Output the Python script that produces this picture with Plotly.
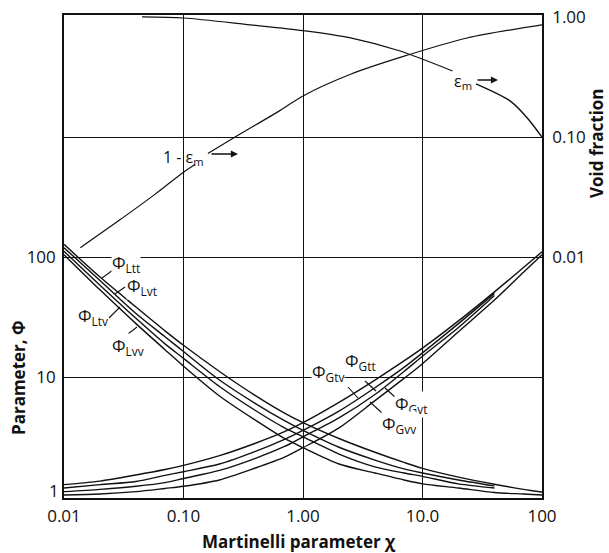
import plotly.graph_objects as go

# ---------------- data ----------------
chi_full = [0.01, 0.02, 0.04, 0.07, 0.1, 0.2, 0.4, 0.7, 1, 2, 4, 7, 10, 20, 40, 70, 100]
chi_short = [0.01, 0.02, 0.04, 0.07, 0.1, 0.2, 0.4, 0.7, 1, 2, 4, 7, 10, 20, 40]

phi_Ltt = [128, 68.4, 38.5, 24.4, 18.5, 11.2, 7.05, 5.04, 4.20, 3.10, 2.38, 1.96, 1.75, 1.48, 1.29, 1.17, 1.11]
phi_Lvt = [120, 64.0, 34.0, 21.8, 16.4, 9.5, 6.05, 4.36, 3.62, 2.62, 2.05, 1.73, 1.60, 1.40, 1.25]
phi_Ltv = [112, 58.5, 31.0, 19.0, 14.4, 8.4, 5.3, 3.8, 3.2, 2.3, 1.8, 1.6, 1.5, 1.3, 1.2]
phi_Lvv = [105, 53.5, 28.0, 17.0, 12.4, 7.0, 4.4, 3.1, 2.6, 1.9, 1.6, 1.4, 1.3, 1.2, 1.1, 1.07, 1.05]

phi_Gtt = [1.28, 1.37, 1.54, 1.71, 1.85, 2.23, 2.83, 3.53, 4.20, 6.20, 9.5, 13.7, 17.5, 29.5, 51.5, 82, 111]
phi_Gvt = [1.20, 1.28, 1.36, 1.53, 1.64, 1.90, 2.42, 3.05, 3.62, 5.24, 8.2, 12.1, 16.0, 28.0, 50.0]
phi_Gtv = [1.12, 1.17, 1.24, 1.33, 1.44, 1.68, 2.12, 2.66, 3.2, 4.6, 7.2, 11.2, 15.0, 26.0, 48.0]
phi_Gvv = [1.05, 1.07, 1.12, 1.19, 1.24, 1.40, 1.76, 2.17, 2.6, 3.8, 6.4, 9.8, 13.0, 24.0, 44.0, 75, 105]

# void fraction curves (right axis)
eps_chi_a = [0.045, 0.1, 0.36, 1.0, 2.5, 6.5, 17.8]
eps_val_a = [1.0, 0.98, 0.86, 0.77, 0.67, 0.52, 0.355]
eps_chi_b = [28, 54, 75, 100]
eps_val_b = [0.277, 0.20, 0.145, 0.10]

oneeps_chi_a = [0.0137, 0.028, 0.058, 0.1, 0.125]
oneeps_val_a = [0.012, 0.0198, 0.0335, 0.051, 0.059]
oneeps_chi_b = [0.16, 0.27, 0.64, 1.0, 2.5, 6.5, 23.6, 100]
oneeps_val_b = [0.073, 0.10, 0.166, 0.22, 0.333, 0.46, 0.668, 0.86]

x_tickvals = [0.01, 0.1, 1, 10, 100]
x_ticktext = ["0.01", "0.10", "1.00", "10.0", "100"]
yl_tickvals = [1, 10, 100, 1000]
yl_ticktext = ["", "10", "100", ""]
yl_bottom_label = "1"
yr_tickvals = [0.01, 0.1, 1]
yr_ticktext = ["0.01", "0.10", "1.00"]

# ---------------- layout geometry ----------------
W, H = 609, 553
L, R, T, B = 64, 67, 15, 55
PW, PH = W - L - R, H - T - B


def pp(px, py):
    return (px - L) / PW, (H - B - py) / PH


FONT = "Open Sans"
LC = "#111111"
LW = 1.4

fig = go.Figure()


def curve(x, y, axis="y", w=LW):
    fig.add_trace(go.Scatter(x=x, y=y, mode="lines", yaxis=axis,
                             line=dict(color=LC, width=w, shape="spline", smoothing=0.8),
                             showlegend=False, hoverinfo="skip"))


curve(chi_full, phi_Ltt)
curve(chi_short, phi_Lvt)
curve(chi_short, phi_Ltv)
curve(chi_full, phi_Lvv)
curve(chi_full, phi_Gtt)
curve(chi_short, phi_Gvt)
curve(chi_short, phi_Gtv)
curve(chi_full, phi_Gvv)

curve(eps_chi_a, eps_val_a, "y2", 1.2)
curve(eps_chi_b, eps_val_b, "y2", 1.4)
curve(oneeps_chi_a, oneeps_val_a, "y2", 1.2)
curve(oneeps_chi_b, oneeps_val_b, "y2", 1.2)

ann = []
shapes = []


def label(text, px, py, size=17, bg="white", anchor="left"):
    x, y = pp(px, py)
    ann.append(dict(x=x, y=y, xref="paper", yref="paper", text=text, showarrow=False,
                    xanchor=anchor, yanchor="middle", bgcolor=bg, borderpad=0,
                    font=dict(family=FONT, size=size, color=LC)))


def seg(x0, y0, x1, y1, w=1.1):
    a, b = pp(x0, y0)
    c, d = pp(x1, y1)
    shapes.append(dict(type="line", xref="paper", yref="paper", x0=a, y0=b, x1=c, y1=d,
                       line=dict(color=LC, width=w)))


def arrow(x0, y0, x1, y1):
    a, b = pp(x1, y1)
    ann.append(dict(x=a, y=b, xref="paper", yref="paper", text="", showarrow=True,
                    ax=x0 - x1, ay=y0 - y1, arrowhead=2, arrowsize=1.1, arrowwidth=1.3,
                    arrowcolor=LC))


label("Φ<sub>Ltt</sub>", 111, 263)
label("Φ<sub>Lvt</sub>", 126, 286)
label("Φ<sub>Ltv</sub>", 77, 317)
label("Φ<sub>Lvv</sub>", 111, 346)
label("Φ<sub>Gtv</sub>", 311, 372)
label("Φ<sub>Gtt</sub>", 344, 361)
label("Φ<sub>Gvt</sub>", 394, 404)
label("Φ<sub>Gvv</sub>", 381, 424)

seg(102, 278, 113, 270)
seg(115, 294, 125, 287)
seg(109, 318, 120, 307)
seg(128, 334, 137, 327)
seg(365, 381, 376, 391)
seg(348, 387, 358, 398)
seg(385, 388, 395, 397)
seg(370, 402, 382, 413)

label("1 - ε<sub>m</sub>", 162, 157, 16, bg="rgba(0,0,0,0)")
arrow(210, 154, 238, 154)
label("ε<sub>m</sub>", 453, 81, 16, bg="rgba(0,0,0,0)")
arrow(476, 80, 498, 80)

# bottom tick label of the left axis, placed where the reference shows it
label(yl_bottom_label, 60, 490, 17, bg="rgba(0,0,0,0)", anchor="right")

# axis titles as annotations (positioned as in the reference)
for txt, px, py, ang in [("<b>Parameter, Φ</b>", 18, 378, -90),
                         ("<b>Void fraction</b>", 596, 143, -90),
                         ("<b>Martinelli parameter χ</b>", 299, 541, 0)]:
    x, y = pp(px, py)
    ann.append(dict(x=x, y=y, xref="paper", yref="paper", text=txt, showarrow=False,
                    textangle=ang, xanchor="center", yanchor="middle",
                    font=dict(family=FONT, size=17, color=LC)))

fig.update_layout(
    width=W, height=H, margin=dict(l=L, r=R, t=T, b=B, autoexpand=False),
    plot_bgcolor="white", paper_bgcolor="white",
    font=dict(family=FONT, size=17, color=LC),
    xaxis=dict(type="log", range=[-2, 2], tickvals=x_tickvals, ticktext=x_ticktext,
               showgrid=True, gridcolor=LC, gridwidth=1.2, zeroline=False,
               showline=True, linecolor=LC, linewidth=1.6, mirror=True, ticks="",
               ticklabelstandoff=2),
    yaxis=dict(type="log", range=[-0.004, 4.016], tickvals=yl_tickvals, ticktext=yl_ticktext,
               showgrid=True, gridcolor=LC, gridwidth=1.2, zeroline=False,
               showline=True, linecolor=LC, linewidth=1.6, ticks="", ticklabelstandoff=3),
    yaxis2=dict(type="log", range=[-4.004, 0.016], tickvals=yr_tickvals, ticktext=yr_ticktext,
                overlaying="y", side="right", showgrid=False, zeroline=False,
                showline=True, linecolor=LC, linewidth=1.6, ticks="", ticklabelstandoff=5),
    annotations=ann, shapes=shapes,
)

fig.write_html("out.html", config={"displayModeBar": False},
               post_script="document.body.style.margin='0';document.body.style.padding='0';")
